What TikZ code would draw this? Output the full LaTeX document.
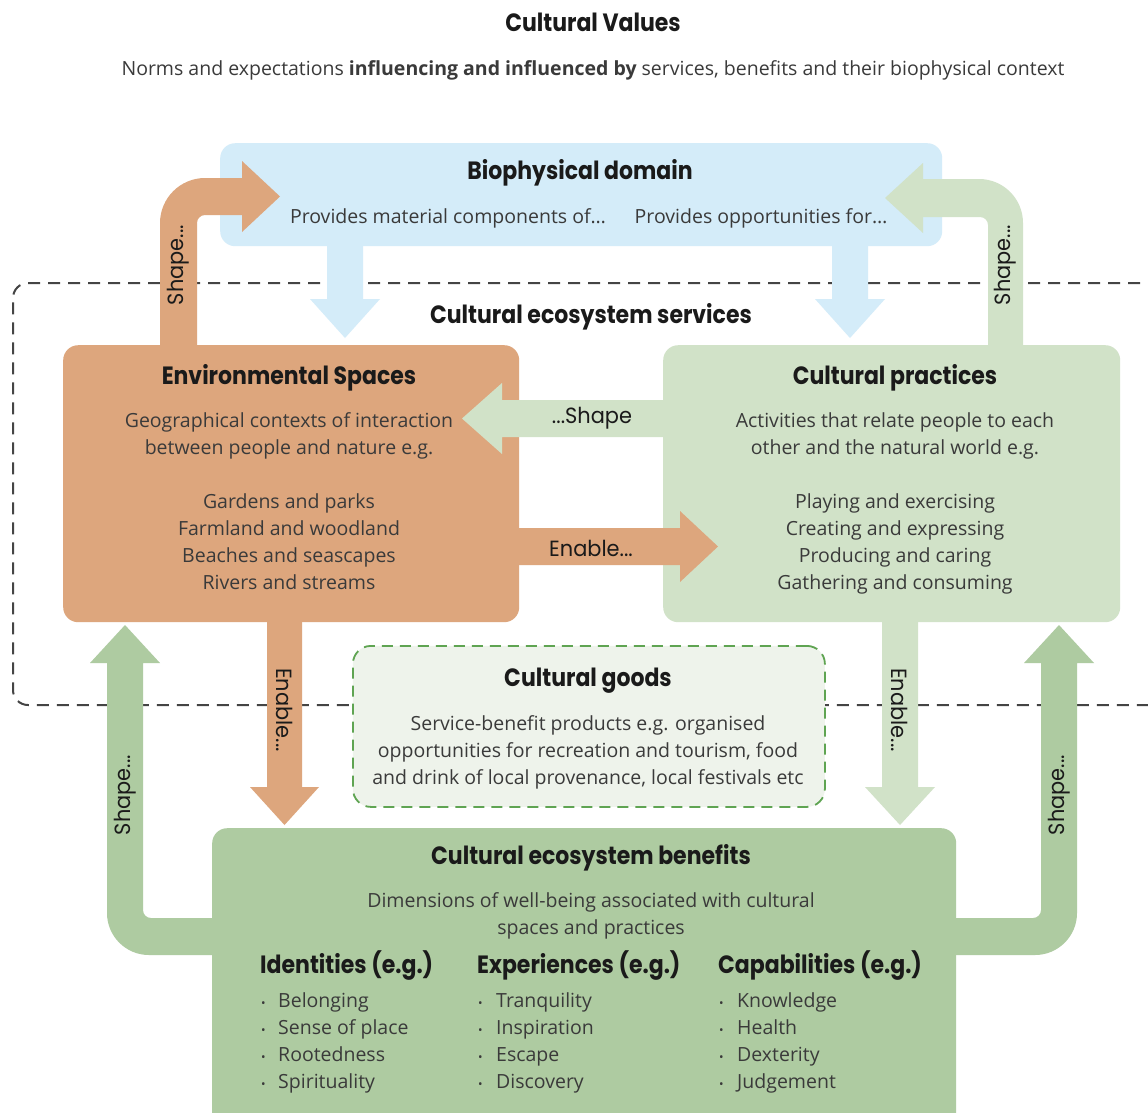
\documentclass[tikz,border=0pt]{standalone}
\usepackage{fontspec}
\setmainfont{Open Sans}[FakeStretch=1.0]
\newfontfamily\hd{Poppins}[FakeStretch=0.88]
\newfontfamily\lb{Poppins}[FakeStretch=0.95]
\usetikzlibrary{calc}
\definecolor{bio}{HTML}{D4ECF9}
\definecolor{env}{HTML}{DDA67D}
\definecolor{prac}{HTML}{D1E2C8}
\definecolor{ben}{HTML}{AECBA1}
\definecolor{goodsfill}{HTML}{EEF3EB}
\definecolor{goodsline}{HTML}{5FA452}
\definecolor{frame}{HTML}{444444}
\definecolor{ink}{HTML}{1A1A1A}
\definecolor{body}{HTML}{3A3A3A}
\tikzset{
  box/.style={rounded corners=15pt, inner sep=0pt, draw=none, anchor=north west},
  head/.style={font=\hd\bfseries\fontsize{25}{29}\selectfont, text=ink, inner sep=0pt},
  txt/.style={font=\fontsize{19.5}{27}\selectfont, text=body, align=center, inner sep=0pt},
  lab/.style={font=\lb\fontsize{22}{26}\selectfont, text=ink, inner sep=0pt},
  item/.style={font=\fontsize{19.5}{27}\selectfont, text=body, inner sep=0pt, anchor=base west},
  dot/.style={font=\fontsize{12}{27}\selectfont, text=body, inner sep=0pt, anchor=base west},
}
\begin{document}
\begin{tikzpicture}[x=1pt,y=-1pt]
\clip (0,0) rectangle (1148,1112);
\fill[white] (0,0) rectangle (1148,1112);

% title
\node[head] (title) at (593,22) {Cultural Values};
\node[txt] (subtitle) at (593,70) {Norms and expectations \textbf{influencing and influenced by} services, benefits and their biophysical context};

% dashed services frame
\draw[frame, line width=2pt, dash pattern=on 12pt off 8pt]
  (1160,283) -- (28,283) .. controls (19.7,283) and (13,289.7) .. (13,298)
  -- (13,690) .. controls (13,698.3) and (19.7,705) .. (28,705) -- (1160,705);

% boxes
\node[box, fill=bio, minimum width=722pt, minimum height=103pt] (bio) at (220,143) {};
\node[box, fill=env, minimum width=456pt, minimum height=277pt] (es) at (63,345) {};
\node[box, fill=prac, minimum width=457pt, minimum height=277pt] (cp) at (663,345) {};
\node[box, fill=goodsfill, draw=goodsline, line width=1.8pt, dash pattern=on 11pt off 7pt, rounded corners=18pt, minimum width=472pt, minimum height=161pt] (goods) at (352,645) {};
\node[box, fill=ben, minimum width=744pt, minimum height=320pt] (cb) at (212,828) {};

% blue down arrows from biophysical domain
\fill[bio] (327,240) -- (327,299) -- (310,299) -- (345,338) -- (380,299) -- (363,299) -- (363,240) -- cycle;
\fill[bio] (832,240) -- (832,299) -- (815,299) -- (850,338) -- (885,299) -- (868,299) -- (868,240) -- cycle;

% top-left orange "Shape..." arrow
\fill[env] (160,350) -- (160,223) .. controls (160,198.2) and (180.2,178) .. (205,178)
  -- (242,178) -- (242,161) -- (280,196.5) -- (242,232) -- (242,215) -- (205,215)
  .. controls (200.6,215) and (197,218.6) .. (197,223) -- (197,350) -- cycle;
% top-right green "Shape..." arrow
\fill[prac] (988,350) -- (988,225) .. controls (988,220.6) and (984.4,217) .. (980,217)
  -- (923,217) -- (923,233) -- (885,198) -- (923,163) -- (923,179) -- (979,179)
  .. controls (1003.3,179) and (1023,198.7) .. (1023,223) -- (1023,350) -- cycle;

% ...Shape (practices -> spaces)
\fill[prac] (668,400) -- (502,400) -- (502,383) -- (462,418.5) -- (502,454) -- (502,437) -- (668,437) -- cycle;
% Enable... (spaces -> practices)
\fill[env] (514,528) -- (680,528) -- (680,511) -- (718,546.5) -- (680,582) -- (680,565) -- (514,565) -- cycle;

% down Enable... arrows
\fill[env] (267,617) -- (267,787) -- (250,787) -- (284.5,825) -- (319,787) -- (302,787) -- (302,617) -- cycle;
\fill[prac] (882,617) -- (882,787) -- (865,787) -- (900,825) -- (935,787) -- (918,787) -- (918,617) -- cycle;

% bottom Shape... arrows from benefits
\fill[ben] (217,918) -- (151,918) .. controls (146.6,918) and (143,914.4) .. (143,910)
  -- (143,663) -- (160,663) -- (125,625) -- (90,663) -- (107,663) -- (107,913)
  .. controls (107,936.2) and (125.8,955) .. (149,955) -- (217,955) -- cycle;
\fill[ben] (951,918) -- (1033,918) .. controls (1037.4,918) and (1041,914.4) .. (1041,910)
  -- (1041,663) -- (1024,663) -- (1059,625) -- (1094,663) -- (1077,663) -- (1077,913)
  .. controls (1077,936.2) and (1058.2,955) .. (1035,955) -- (951,955) -- cycle;

% arrow labels
\node[lab, rotate=90] (l1) at (178.5,265) {Shape...};
\node[lab, rotate=90] (l2) at (1005.5,265) {Shape...};
\node[lab] (l3) at (592,418) {...Shape};
\node[lab] (l4) at (591,548) {Enable...};
\node[lab, rotate=-90] (l5) at (284.5,710) {Enable...};
\node[lab, rotate=-90] (l6) at (900,710) {Enable...};
\node[lab, rotate=90] (l7) at (125,795) {Shape...};
\node[lab, rotate=90] (l8) at (1059,795) {Shape...};

% biophysical texts
\node[head] (biot) at (580,173) {Biophysical domain};
\node[txt] (bio1) at (448,218) {Provides material components of…};
\node[txt] (bio2) at (761,218) {Provides opportunities for…};

\node[head] (cest) at (591,317) {Cultural ecosystem services};

% spaces
\node[head] (est) at (289,378) {Environmental Spaces};
\node[txt] (esx) at (289,501) {Geographical contexts of interaction\\between people and nature e.g.\\[27pt]Gardens and parks\\Farmland and woodland\\Beaches and seascapes\\Rivers and streams};

% practices
\node[head] (cpt) at (895,378) {Cultural practices};
\node[txt] (cpx) at (895,503) {Activities that relate people to each\\other and the natural world e.g.\\[27pt]Playing and exercising\\Creating and expressing\\Producing and caring\\Gathering and consuming};

% goods
\node[head] (gt) at (588,681) {Cultural goods};
\node[txt] (gx) at (588,752) {Service-benefit products e.g. organised\\opportunities for recreation and tourism, food\\and drink of local provenance, local festivals etc};

% benefits
\node[head] (cbt) at (591,858) {Cultural ecosystem benefits};
\node[txt] (cbx) at (591,916) {Dimensions of well-being associated with cultural\\spaces and practices};

\node[head, anchor=west] (h1) at (260,966) {Identities (e.g.)};
\node[head, anchor=west] (h2) at (477,966) {Experiences (e.g.)};
\node[head, anchor=west] (h3) at (718,966) {Capabilities (e.g.)};

\foreach \a/\b/\c [count=\i] in {Belonging/Tranquility/Knowledge, Sense of place/Inspiration/Health, Rootedness/Escape/Dexterity, Spirituality/Discovery/Judgement}{
  \pgfmathsetmacro{\yy}{980+27*\i}
  \node[dot] (da\i) at (261,\yy) {•};
  \node[item] (ia\i) at (278,\yy) {\a};
  \node[dot] (db\i) at (478,\yy) {•};
  \node[item] (ib\i) at (496,\yy) {\b};
  \node[dot] (dc\i) at (719,\yy) {•};
  \node[item] (ic\i) at (737,\yy) {\c};
}
\end{tikzpicture}
\end{document}
